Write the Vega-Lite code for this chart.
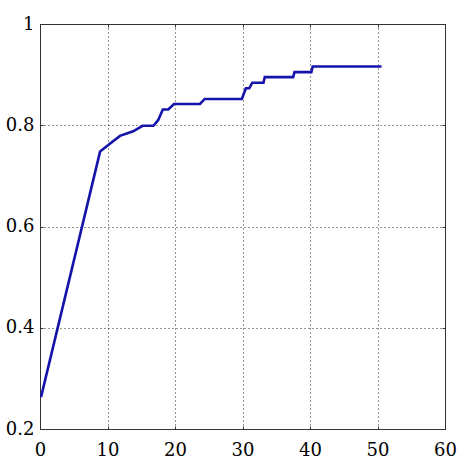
{
  "$schema": "https://vega.github.io/schema/vega-lite/v6.json",
  "width": 405,
  "height": 405,
  "autosize": {"type": "none"},
  "padding": {"left": 40, "top": 24, "right": 22, "bottom": 40},
  "background": "white",
  "config": {
    "font": "DejaVu Serif",
    "view": {"stroke": "#333333", "strokeWidth": 1},
    "axis": {
      "labelColor": "black",
      "domainColor": "#333333",
      "tickColor": "#333333",
      "grid": false
    }
  },
  "data": {"values": [
    {"x": 0.15, "y": 0.263},
    {"x": 8.9, "y": 0.748},
    {"x": 10.3, "y": 0.763},
    {"x": 11.85, "y": 0.779},
    {"x": 13.8, "y": 0.788},
    {"x": 15.2, "y": 0.799},
    {"x": 16.8, "y": 0.799},
    {"x": 17.5, "y": 0.81},
    {"x": 18.2, "y": 0.831},
    {"x": 19.0, "y": 0.831},
    {"x": 19.85, "y": 0.842},
    {"x": 23.7, "y": 0.842},
    {"x": 24.4, "y": 0.852},
    {"x": 29.9, "y": 0.852},
    {"x": 30.5, "y": 0.873},
    {"x": 31.0, "y": 0.873},
    {"x": 31.45, "y": 0.884},
    {"x": 33.1, "y": 0.884},
    {"x": 33.3, "y": 0.895},
    {"x": 37.5, "y": 0.895},
    {"x": 37.7, "y": 0.905},
    {"x": 40.2, "y": 0.905},
    {"x": 40.4, "y": 0.916},
    {"x": 50.6, "y": 0.916}
  ]},
  "resolve": {"axis": {"x": "independent", "y": "independent"}},
  "layer": [
    {
      "mark": {"type": "rule", "opacity": 0},
      "encoding": {
        "x": {"field": "x", "type": "quantitative", "scale": {"domain": [0, 60], "nice": false},
          "axis": {"values": [0,10,20,30,40,50,60], "grid": true, "gridDash": [1, 3], "gridColor": "black", "gridOpacity": 0.85,
            "labelFont": "DejaVu Serif", "labelFontSize": 18, "labelColor": "black",
            "tickSize": -3, "labelPadding": 15, "title": null, "labelFlush": false}},
        "y": {"field": "y", "type": "quantitative", "scale": {"domain": [0.2, 1], "nice": false, "zero": false},
          "axis": {"values": [0.2,0.4,0.6,0.8,1], "grid": true, "gridDash": [1, 3], "gridColor": "black", "gridOpacity": 0.85,
            "labelFont": "DejaVu Serif", "labelFontSize": 18, "labelColor": "black",
            "tickSize": -3, "labelPadding": 9, "title": null, "format": "~g", "labelFlush": false}}
      }
    },
    {
      "mark": {"type": "rule", "opacity": 0},
      "encoding": {
        "x": {"field": "x", "type": "quantitative",
          "axis": {"orient": "top", "values": [0,10,20,30,40,50,60], "labels": false, "tickSize": -3, "title": null}},
        "y": {"field": "y", "type": "quantitative",
          "axis": {"orient": "right", "values": [0.2,0.4,0.6,0.8,1], "labels": false, "tickSize": -3, "title": null}}
      }
    },
    {
      "mark": {"type": "line", "color": "#1414aa", "strokeWidth": 2.6, "clip": true},
      "encoding": {
        "x": {"field": "x", "type": "quantitative", "axis": null},
        "y": {"field": "y", "type": "quantitative", "axis": null}
      }
    }
  ]
}
